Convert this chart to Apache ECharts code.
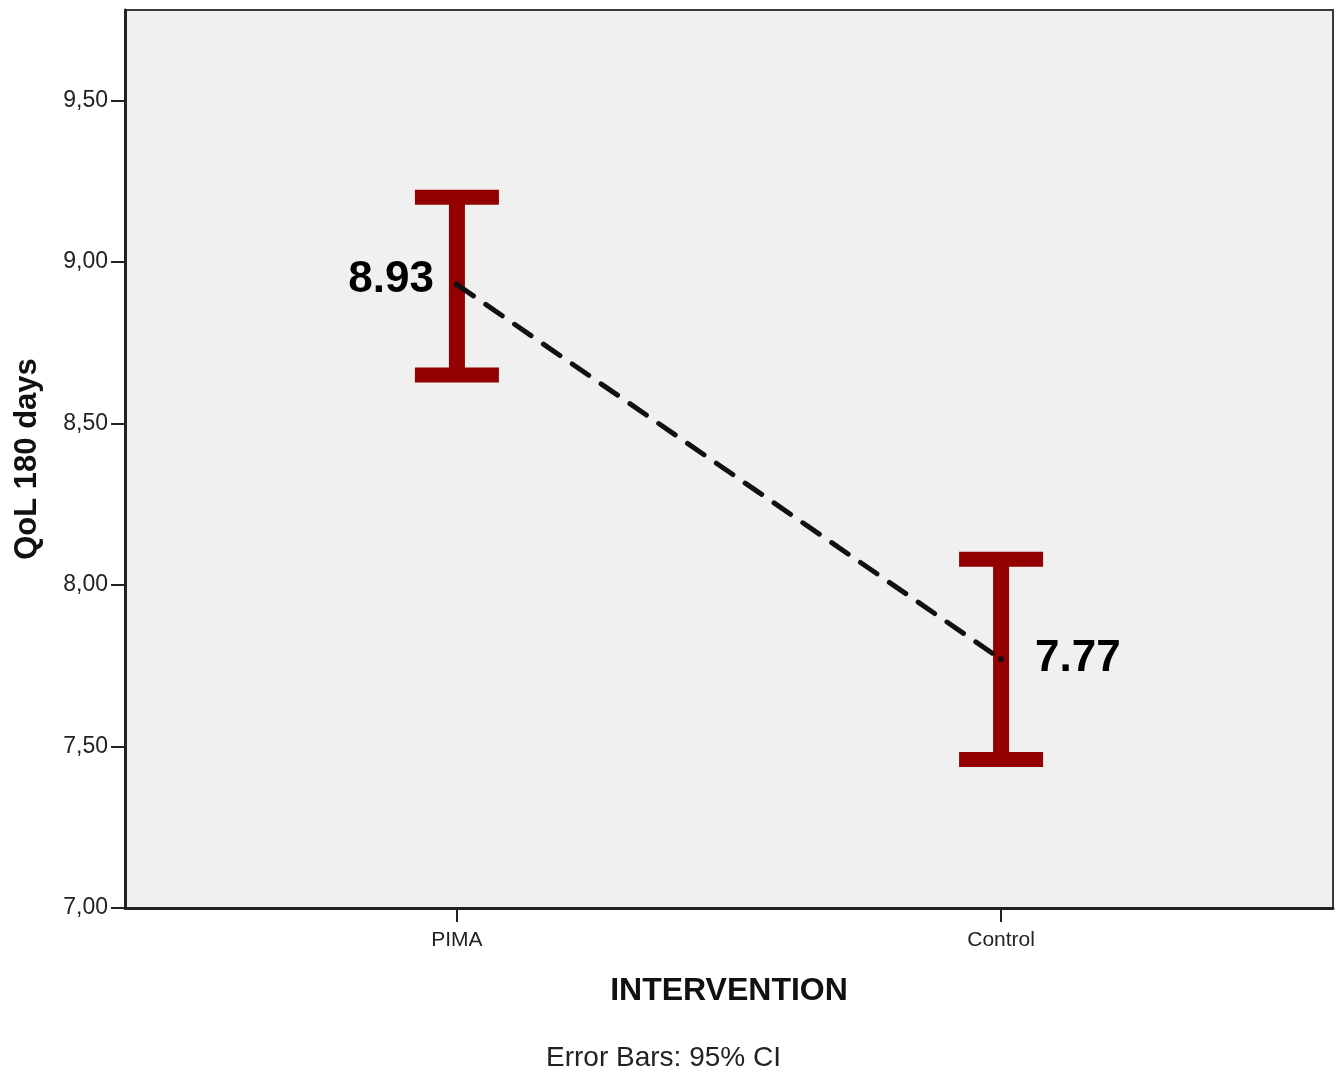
<!DOCTYPE html>
<html>
<head>
<meta charset="utf-8">
<script src="https://cdn.jsdelivr.net/npm/echarts@6/dist/echarts.min.js"></script>
<style>
  html, body { margin: 0; padding: 0; background: #ffffff; }
  #chart { width: 1336px; height: 1078px; }
</style>
</head>
<body>
<div id="chart"></div>
<script>
// ---- data ----
const categories = ['PIMA', 'Control'];
const categoryPos = [1, 2];
const means = [8.93, 7.77];
const ciLower = [8.65, 7.46];
const ciUpper = [9.20, 8.08];
const yTicks = [7.0, 7.5, 8.0, 8.5, 9.0, 9.5];

const chart = echarts.init(document.getElementById('chart'));

const meanPoints = categoryPos.map((x, i) => [x, means[i]]);
const errData = categoryPos.map((x, i) => [x, ciLower[i], ciUpper[i]]);

const font = '"Liberation Sans", Arial, sans-serif';

const option = {
  backgroundColor: '#ffffff',
  animation: false,
  title: {
    text: 'Error Bars: 95% CI',
    left: 546,
    top: 1044,
    padding: 0,
    textStyle: { fontFamily: font, fontSize: 28, fontWeight: 'normal', color: '#222' }
  },
  grid: {
    left: 125, right: 3, top: 10, bottom: 170,
    show: true,
    backgroundColor: '#f0f0f0',
    borderColor: '#3a3a3a',
    borderWidth: 2
  },
  xAxis: {
    type: 'value',
    min: 0.39,
    max: 2.61,
    splitLine: { show: false },
    axisLine: { show: true, onZero: false, lineStyle: { color: '#222', width: 3 } },
    axisTick: { show: true, length: 14, customValues: categoryPos, lineStyle: { color: '#222', width: 2 } },
    axisLabel: {
      customValues: categoryPos,
      margin: 22,
      fontFamily: font, fontSize: 21, color: '#222',
      formatter: v => categories[categoryPos.indexOf(Math.round(v))] || ''
    },
    name: 'INTERVENTION',
    nameLocation: 'middle',
    nameGap: 67,
    nameTextStyle: { fontFamily: font, fontSize: 32, fontWeight: 'bold', color: '#111' }
  },
  yAxis: {
    type: 'value',
    min: 7,
    max: 9.78,
    splitLine: { show: false },
    axisLine: { show: true, onZero: false, lineStyle: { color: '#222', width: 3 } },
    axisTick: { show: true, length: 14, customValues: yTicks, lineStyle: { color: '#222', width: 2 } },
    axisLabel: {
      customValues: yTicks,
      margin: 17,
      fontFamily: font, fontSize: 23, color: '#222',
      formatter: v => v.toFixed(2).replace('.', ',')
    },
    name: 'QoL 180 days',
    nameLocation: 'middle',
    nameRotate: 90,
    nameGap: 82,
    nameTextStyle: { fontFamily: font, fontSize: 31, fontWeight: 'bold', color: '#111' }
  },
  series: [
    {
      type: 'custom',
      name: 'CI',
      z: 2,
      silent: true,
      data: errData,
      encode: { x: 0, y: [1, 2] },
      renderItem: function (params, api) {
        const x = api.value(0);
        const lo = api.coord([x, api.value(1)]);
        const hi = api.coord([x, api.value(2)]);
        const stemW = 16, capW = 84, capH = 15;
        const color = '#930000';
        return {
          type: 'group',
          children: [
            { type: 'rect', shape: { x: hi[0] - stemW / 2, y: hi[1], width: stemW, height: lo[1] - hi[1] }, style: { fill: color } },
            { type: 'rect', shape: { x: hi[0] - capW / 2, y: hi[1] - capH / 2, width: capW, height: capH }, style: { fill: color } },
            { type: 'rect', shape: { x: lo[0] - capW / 2, y: lo[1] - capH / 2, width: capW, height: capH }, style: { fill: color } }
          ]
        };
      }
    },
    {
      type: 'line',
      name: 'Mean',
      z: 3,
      silent: true,
      data: meanPoints,
      symbol: 'none',
      lineStyle: { color: '#111', width: 5, type: [20, 15], cap: 'round' }
    },
    {
      type: 'scatter',
      name: 'MeanLabel',
      z: 4,
      silent: true,
      symbolSize: 6,
      itemStyle: { color: '#111', opacity: 1 },
      data: [
        { value: meanPoints[0], label: { position: 'left', distance: 20, offset: [0, -5] } },
        { value: meanPoints[1], label: { position: 'right', distance: 31 } }
      ],
      label: {
        show: true,
        fontFamily: font,
        fontSize: 44,
        fontWeight: 'bold',
        color: '#000',
        opacity: 1,
        textBorderWidth: 0,
        formatter: p => p.value[1].toFixed(2)
      }
    }
  ]
};

chart.setOption(option);
</script>
</body>
</html>
